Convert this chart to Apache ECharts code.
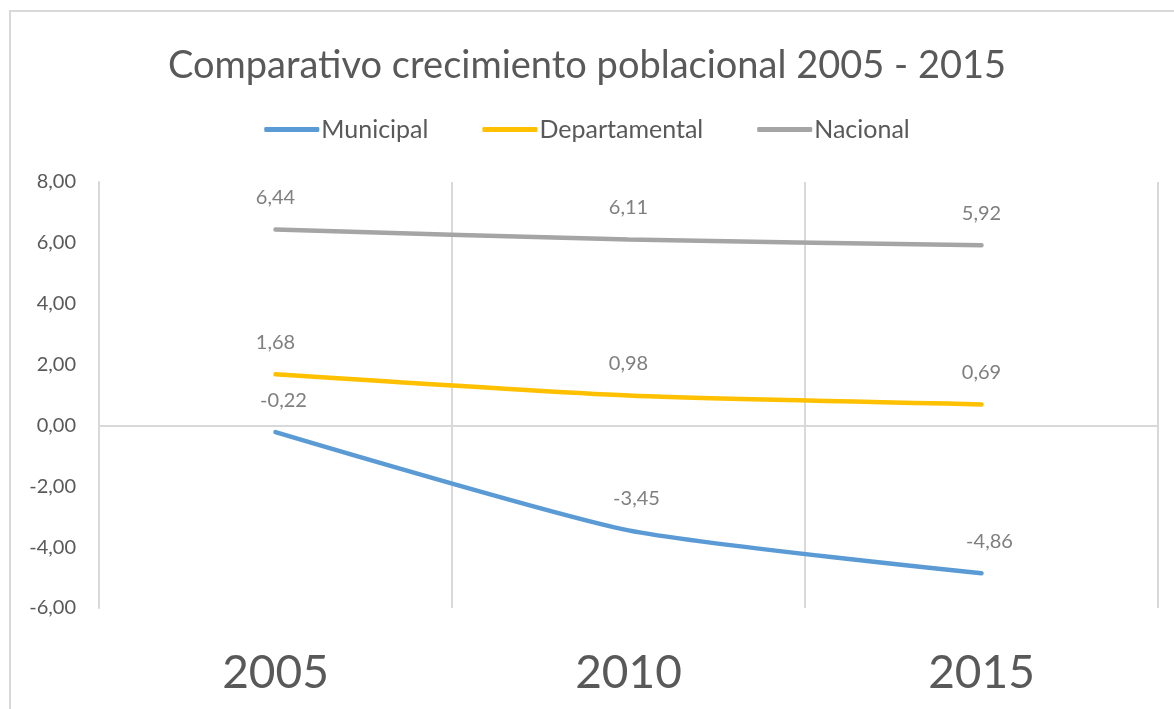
<!DOCTYPE html>
<html>
<head>
<meta charset="utf-8">
<script src="https://cdn.jsdelivr.net/npm/echarts@6/dist/echarts.min.js"></script>
<style>
  html, body { margin: 0; padding: 0; background: #fff; }
  #frame { position: absolute; left: 9px; top: 10px; width: 1180px; height: 720px; border: 2px solid #d9d9d9; box-sizing: border-box; }
  #chart { position: absolute; left: 0; top: 0; width: 1174px; height: 709px; }
</style>
</head>
<body>
<div id="frame"></div>
<div id="chart"></div>
<script>
  const years = ["2005", "2010", "2015"];
  const municipal = [-0.22, -3.45, -4.86];
  const departamental = [1.68, 0.98, 0.69];
  const nacional = [6.44, 6.11, 5.92];

  const fmt = v => v.toFixed(2).replace(".", ",");
  const font = "Lato, 'Open Sans', sans-serif";

  const chart = echarts.init(document.getElementById("chart"));

  const mkSeries = (name, data, color, dx) => ({
    name,
    type: "line",
    data,
    smooth: 0.2,
    symbol: "circle",
    symbolSize: 0.1,
    showSymbol: true,
    lineStyle: { color, width: 4.5, cap: "round" },
    itemStyle: { color },
    label: {
      show: true,
      position: "top",
      distance: 22,
      offset: [dx, 0],
      formatter: p => fmt(p.value),
      color: "#7f7f7f",
      fontSize: 20,
      fontFamily: font
    }
  });

  const series = [
    mkSeries("Municipal", municipal, "#5b9bd5", 8),
    mkSeries("Departamental", departamental, "#ffc000", 0),
    mkSeries("Nacional", nacional, "#a5a5a5", 0)
  ];
  // horizontal line at zero
  series[0].markLine = {
    silent: true,
    symbol: "none",
    label: { show: false },
    lineStyle: { color: "#d9d9d9", width: 2, type: "solid" },
    data: [{ yAxis: 0 }]
  };

  chart.setOption({
    animation: false,
    title: {
      text: "Comparativo crecimiento poblacional 2005 - 2015",
      left: "center",
      top: 42,
      textStyle: { fontFamily: font, fontWeight: "normal", fontSize: 38, color: "#595959" }
    },
    legend: {
      top: 112,
      left: "center",
      icon: "roundRect",
      itemWidth: 55,
      itemHeight: 5,
      itemGap: 54,
      textStyle: { fontFamily: font, fontSize: 25, color: "#595959", padding: [0, 0, 0, -3] },
      data: ["Municipal", "Departamental", "Nacional"]
    },
    grid: { left: 99, right: 16, top: 182, bottom: 101, containLabel: false },
    xAxis: {
      type: "category",
      data: years,
      boundaryGap: true,
      axisLine: { show: false },
      axisTick: { show: false },
      splitLine: { show: true, lineStyle: { color: "#d9d9d9", width: 2 } },
      axisLabel: { fontFamily: font, fontSize: 46, color: "#595959", margin: 42 }
    },
    yAxis: {
      type: "value",
      min: -6,
      max: 8,
      interval: 2,
      axisLine: { show: true, lineStyle: { color: "#d9d9d9", width: 2 } },
      axisTick: { show: false },
      splitLine: { show: false },
      axisLabel: { fontFamily: font, fontSize: 20, color: "#595959", margin: 23, formatter: v => fmt(v) }
    },
    series
  });
</script>
</body>
</html>
